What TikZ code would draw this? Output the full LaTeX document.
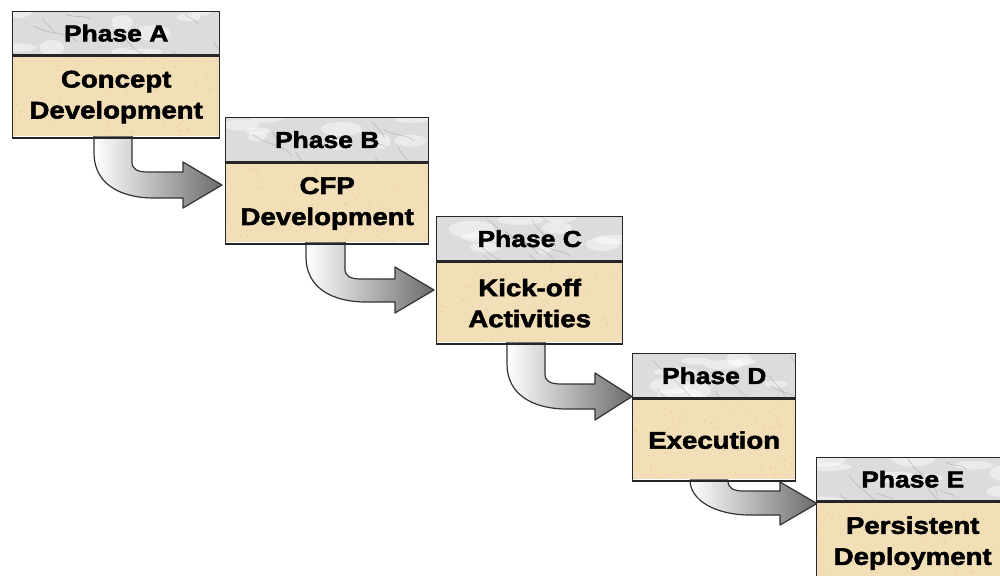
\documentclass[tikz,border=0pt]{standalone}
\usepackage{fontspec}
\newfontfamily\phasefont{Liberation Sans}[FakeStretch=1.15, BoldFeatures={FakeBold=2.2}]
\definecolor{marble}{RGB}{220,220,220}
\definecolor{vein}{RGB}{150,150,150}
\definecolor{sand}{RGB}{242,223,184}
\definecolor{speck}{RGB}{212,188,142}
\tikzset{
  boxline/.style={draw=black!85, line width=1.4pt, inner sep=0pt},
  hdrtext/.style={font=\phasefont\bfseries\fontsize{23}{27}\selectfont, text=black},
  bodytext/.style={font=\phasefont\bfseries\fontsize{24}{31}\selectfont, align=center, text=black},
  flowarrow/.style={draw=black!80, line width=1.2pt, line join=round,
    left color=white, right color=black!58},
}

% #1 name, #2 x, #3 y, #4 width, #5 header height, #6 body height,
% #7 header text, #8 body text
\newcommand\phasebox[8]{%
  \fill[marble] (#2,#3) rectangle ++(#4,#5);
  \begin{scope}
    \clip (#2,#3) rectangle ++(#4,#5);
    % pale patches of the marble
    \foreach \k in {1,...,9}{
      \fill[white, opacity=0.45] (#2+rnd*#4,#3+rnd*#5) ellipse ({8+rnd*16} and {3+rnd*6});
    }
    % thin grey veins running in varied directions
    \foreach \k in {1,...,8}{
      \pgfmathsetmacro\vx{#2+rnd*#4}
      \pgfmathsetmacro\vy{#3+rnd*#5}
      \pgfmathsetmacro\va{20+rnd*50}
      \pgfmathsetmacro\vl{15+rnd*35}
      \draw[vein, line width=0.6pt, opacity=0.5]
        (\vx,\vy) .. controls +(\va:\vl*0.4) and +(\va+200:\vl*0.3) .. +(\va-10:\vl);
    }
  \end{scope}
  \fill[sand] (#2,#3+#5) rectangle ++(#4,#6);
  \begin{scope}
    \clip (#2,#3+#5) rectangle ++(#4,#6);
    \foreach \k in {1,...,140}{
      \fill[speck, opacity=0.6] (#2+rnd*#4,#3+#5+rnd*#6) circle (0.7);
    }
  \end{scope}
  \node[boxline, hdrtext, minimum width=#4pt, minimum height=#5pt, anchor=north west]
    (h#1) at (#2,#3) {#7};
  \node[boxline, bodytext, minimum width=#4pt, minimum height=#6pt, anchor=north west]
    (b#1) at (h#1.south west) {#8};
}

% curved block arrow: #1 left, #2 right of the stem, #3 top, #4 upper and #5 lower
% edge of the shaft, #6 back of the head, #7 head top, #8 tip x, #9 head bottom
\newcommand\blockarrow[9]{%
  \pgfmathsetmacro\ty{(#7+#9)/2}
  \pgfmathsetmacro\oy{max(#3,#5-45)}
  \draw[flowarrow] (#1,#3) -- (#2,#3) -- (#2,#4-10)
    .. controls (#2,#4-3) and (#2+5,#4) .. (#2+16,#4)
    -- (#6,#4) -- (#6,#7) -- (#8,\ty) -- (#6,#9) -- (#6,#5) -- (#1+60,#5)
    .. controls (#1+25,#5) and (#1,#5-15) .. (#1,\oy) -- cycle;
}

\begin{document}
\begin{tikzpicture}[x=1pt, y=-1pt]
  \useasboundingbox (0,0) rectangle (1000,575);
  \clip (0,0) rectangle (1000,575);
  \fill[white] (0,0) rectangle (1000,575);
  \pgfmathsetseed{17}

  \blockarrow{94}{132}{136}{172}{198}{183}{162}{222}{208}
  \blockarrow{306}{345}{242}{279}{302}{395}{267}{434}{313}
  \blockarrow{507}{545}{342}{384}{409}{595}{373}{632}{420}
  \blockarrow{690}{728}{480}{491}{515}{780}{482}{817}{525}

  \phasebox{A}{12}{11}{207}{43}{82}{Phase A}{Concept\\Development}
  \phasebox{B}{225}{117}{203}{44}{81}{Phase B}{CFP\\Development}
  \phasebox{C}{436}{216}{186}{44}{82}{Phase C}{Kick-off\\Activities}
  \phasebox{D}{632}{353}{163}{44}{82}{Phase D}{Execution}
  \phasebox{E}{816}{457}{192}{43}{82}{Phase E}{Persistent\\Deployment}
\end{tikzpicture}
\end{document}
